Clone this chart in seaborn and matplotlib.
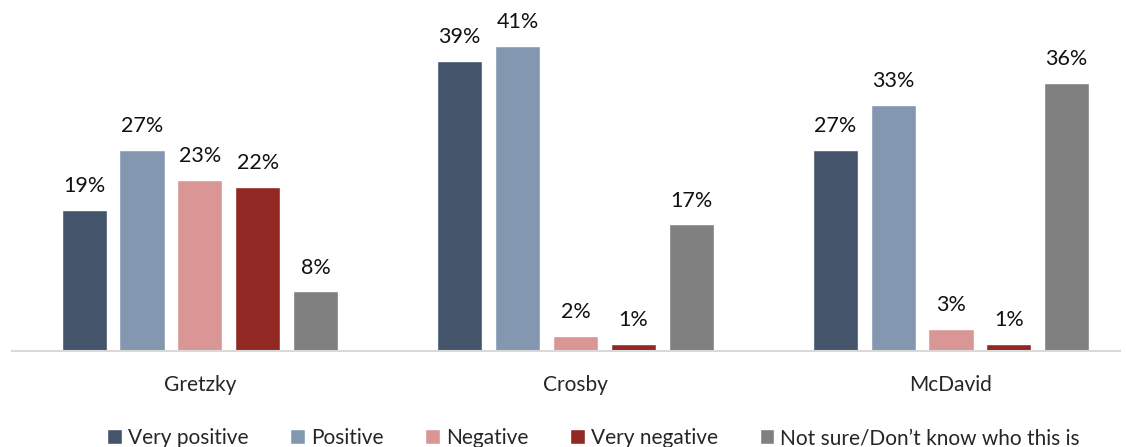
import pandas as pd
import seaborn as sns
import matplotlib.pyplot as plt
from matplotlib import font_manager

# data
players = ['Gretzky', 'Crosby', 'McDavid']
opinions = ['Very positive', 'Positive', 'Negative', 'Very negative',
            'Not sure/Don\u2019t know who this is']
very_positive = [19, 39, 27]
positive = [27, 41, 33]
negative = [23, 2, 3]
very_negative = [22, 1, 1]
not_sure = [8, 17, 36]

colors = ['#44546A', '#8497B0', '#DA9694', '#922823', '#808080']

rows = []
for series, vals in zip(opinions, [very_positive, positive, negative, very_negative, not_sure]):
    for p, v in zip(players, vals):
        rows.append({'player': p, 'opinion': series, 'value': v})
df = pd.DataFrame(rows)

sns.set_style('white')
names = {f.name for f in font_manager.fontManager.ttflist}
fam = 'Liberation Sans Narrow' if 'Liberation Sans Narrow' in names else 'Lato'
plt.rcParams['font.family'] = [fam, 'DejaVu Sans']

fig = plt.figure(figsize=(11.26, 4.47), dpi=100)
ax = fig.add_axes([12 / 1126, 96 / 447, 1108 / 1126, 335 / 447])

sns.barplot(data=df, x='player', y='value', hue='opinion', order=players,
            hue_order=opinions, palette=colors, width=0.77, gap=0.22,
            saturation=1, ax=ax, legend=True)

for cont in ax.containers:
    ax.bar_label(cont, labels=[f'{int(v)}%' for v in cont.datavalues],
                 padding=10, fontsize=15.5, color='#111111')

ax.set_ylim(0, 45)
ax.set_xlim(-0.5, 2.45)
ax.set_xlabel('')
ax.set_ylabel('')
ax.set_yticks([])
ax.tick_params(axis='x', length=0, labelsize=15, pad=17)
for s in ['top', 'right', 'left']:
    ax.spines[s].set_visible(False)
ax.spines['bottom'].set_color('#D9D9D9')
ax.spines['bottom'].set_linewidth(1.5)

ax.legend(loc='center', bbox_to_anchor=(0.525, -0.26), ncol=5, frameon=False,
          fontsize=15, handlelength=0.7, handleheight=0.75, handletextpad=0.3,
          columnspacing=2.0)

fig.savefig('out.png', dpi=100)
